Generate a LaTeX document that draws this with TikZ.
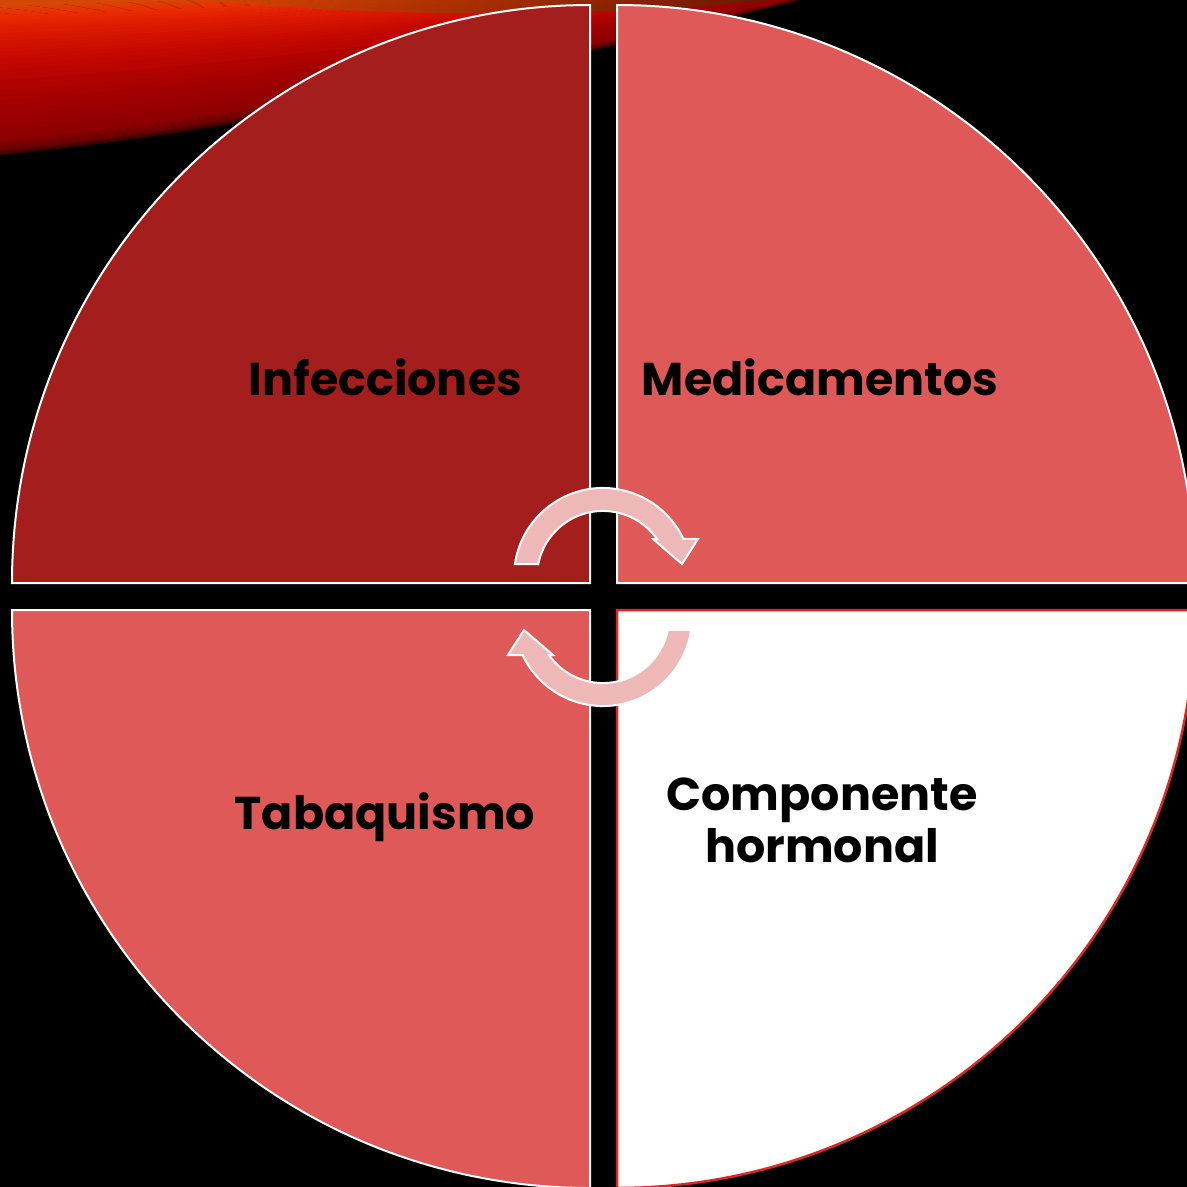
\documentclass[tikz,border=0pt]{standalone}
\usepackage{fontspec}
\setmainfont{Poppins}
\definecolor{darkq}{RGB}{163,30,29}
\definecolor{lightq}{RGB}{222,89,87}
\definecolor{arrowpink}{RGB}{239,184,184}
\definecolor{redline}{RGB}{220,40,36}
\definecolor{sA}{RGB}{195,68,0}
\definecolor{sB}{RGB}{215,72,5}
\definecolor{sC}{RGB}{235,45,0}
\definecolor{sD}{RGB}{222,28,0}
\definecolor{sE}{RGB}{198,8,0}
\definecolor{sF}{RGB}{165,0,0}
\definecolor{sG}{RGB}{140,0,0}
\definecolor{sH}{RGB}{105,0,0}
\definecolor{sI}{RGB}{60,0,0}
\newcommand\streakband[3]{%
  \pgfmathsetmacro\ya{-10+165*#1}%
  \pgfmathsetmacro\yb{-10+165*#2}%
  \pgfmathsetmacro\aa{-15+140*#1}%
  \pgfmathsetmacro\ab{-15+140*#2}%
  \pgfmathsetmacro\ba{-25+75*#1}%
  \pgfmathsetmacro\bb{-25+75*#2}%
  \pgfmathsetmacro\ca{-30+30*#1}%
  \pgfmathsetmacro\cb{-30+30*#2}%
  \fill[#3] (0,\ya) .. controls (300,\aa) and (600,\ba) .. (800,\ca) -- (800,\cb) .. controls (600,\bb) and (300,\ab) .. (0,\yb) -- cycle;
}
\newcommand\streakseg[4]{%
  \foreach \k in {0,...,7}{%
    \pgfmathsetmacro\ta{#1+(#2-#1)*\k/8}%
    \pgfmathsetmacro\tb{#1+(#2-#1)*(\k+1.3)/8}%
    \pgfmathtruncatemacro\pc{100-(\k+0.5)*12.5}%
    \streakband{\ta}{\tb}{#3!\pc!#4}%
  }%
}
\tikzset{
  quad/.style={draw=white, line width=2pt},
  cyclearrow/.style={fill=arrowpink, draw=white, line width=2pt, line join=miter},
  lbl/.style={font=\bfseries\fontsize{46}{52}\selectfont, text=black, anchor=base, inner sep=0pt, align=center}
}
\begin{document}
\begin{tikzpicture}[x=1pt,y=-1pt]
\useasboundingbox (0,0) rectangle (1187,1187);
\clip (0,0) rectangle (1187,1187);
\fill[black] (0,0) rectangle (1187,1187);
% background streak
\streakseg{0}{0.09}{sA}{sB}
\streakseg{0.09}{0.15}{sB}{sC}
\streakseg{0.15}{0.24}{sC}{sD}
\streakseg{0.24}{0.42}{sD}{sE}
\streakseg{0.42}{0.67}{sE}{sF}
\streakseg{0.67}{0.91}{sF}{sG}
\streakseg{0.91}{0.97}{sG}{sH}
\streakseg{0.97}{1.0}{sH}{sI}
% orange top glow towards the right
\shade[left color=sB, right color=sA!45!black, opacity=0.8]
  (180,-2) .. controls (400,22) and (650,14) .. (790,-2) -- cycle;
% quadrants
\path[quad, fill=darkq] (590,583) coordinate (qtl) -- (12,583) arc[start angle=180, end angle=270, radius=578] -- cycle;
\path[quad, fill=lightq] (617,583) coordinate (qtr) -- (617,5) arc[start angle=270, end angle=360, radius=578] -- cycle;
\path[quad, fill=lightq] (590,610) coordinate (qbl) -- (590,1188) arc[start angle=90, end angle=180, radius=578] -- cycle;
\path[fill=white, draw=redline, line width=2.5pt] (617,610) coordinate (qbr) -- (1195,610) arc[start angle=0, end angle=90, radius=578] -- cycle;
% cycle arrows
\path[cyclearrow] (514.9,564.1) arc[start angle=188.3, end angle=334.7, radius=89] -- (698,539) -- (682,564) -- (653,539) -- (657,539) arc[start angle=324.9, end angle=191.1, radius=66] -- cycle;
\begin{scope}[rotate around={180:(603,597)}]
\path[cyclearrow] (514.9,564.1) arc[start angle=188.3, end angle=334.7, radius=89] -- (698,539) -- (682,564) -- (653,539) -- (657,539) arc[start angle=324.9, end angle=191.1, radius=66] -- cycle;
\end{scope}
% labels
\node[lbl] (inf) at (385.5,395) {Infecciones};
\node[lbl] (med) at (820,395) {Medicamentos};
\node[lbl] (tab) at (385,829) {Tabaquismo};
\node[lbl] (comp) at (822,862) {Componente\\hormonal};
\end{tikzpicture}
\end{document}
